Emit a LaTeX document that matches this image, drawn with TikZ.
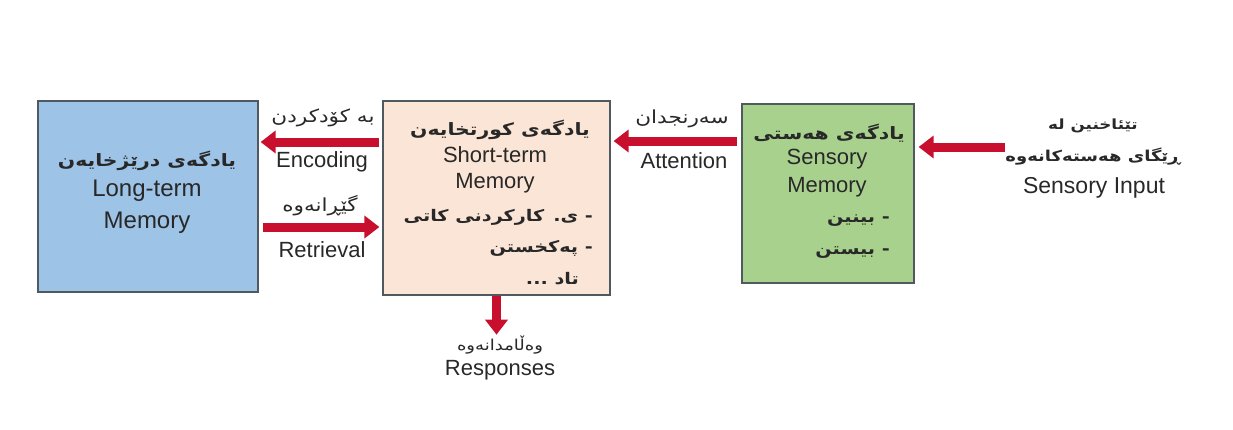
\documentclass[tikz,border=0pt]{standalone}
\usepackage{fontspec}
\setmainfont{Liberation Sans}
\newfontfamily\kufont[Script=Arabic,FakeStretch=1.2]{DejaVu Sans}
\TeXXeTstate=1
\usetikzlibrary{arrows.meta}

\definecolor{ltmfill}{RGB}{157,195,230}
\definecolor{stmfill}{RGB}{251,229,214}
\definecolor{smfill}{RGB}{169,209,142}
\definecolor{boxline}{RGB}{80,88,96}
\definecolor{arrowred}{RGB}{200,16,46}
\definecolor{txt}{RGB}{40,40,40}

\tikzset{
  membox/.style={draw=boxline, line width=1.2pt, minimum width=#1, inner sep=0pt},
  bigarrow/.style={draw=arrowred, line width=9pt, -{Triangle[length=15pt,width=22pt]}},
  entext/.style={font=\fontsize{22}{26}\selectfont, text=txt, inner sep=0pt},
  kutext/.style={font=\kufont\fontsize{18}{22}\selectfont, text=txt, inner sep=0pt},
  kubold/.style={font=\kufont\bfseries\fontsize{16}{20}\selectfont, text=txt, inner sep=0pt},
  kuhead/.style={font=\kufont\bfseries\fontsize{17}{21}\selectfont, text=txt, inner sep=0pt}
}

\begin{document}
\begin{tikzpicture}[x=1pt,y=-1pt]
  \useasboundingbox (0,0) rectangle (1233,429);

  % Draw the memory boxes
  \node[membox=220pt, minimum height=191pt, fill=ltmfill] (ltm) at (148,196.5) {};
  \node[membox=227pt, minimum height=194pt, fill=stmfill] (stm) at (496.5,198) {};
  \node[membox=172pt, minimum height=179pt, fill=smfill] (sm) at (828,193.5) {};

  % Long-term memory text
  \node[kuhead] (ltmku) at (147,161) {\beginR یادگەی درێژخایەن\endR};
  \node[entext, font=\fontsize{24}{28}\selectfont] (ltmen) at (147,191) {Long-term};
  \node[entext, font=\fontsize{24}{28}\selectfont] (ltmen2) at (147,223) {Memory};

  % Short-term memory text
  \node[kuhead] (stmku) at (500,130) {\beginR یادگەی کورتخایەن\endR};
  \node[entext] (stmen) at (495,155) {Short-term};
  \node[entext] (stmen2) at (495,183) {Memory};
  \node[kubold, anchor=east] (stml1) at (593,217) {\beginR - ی. کارکردنی کاتی\endR};
  \node[kubold, anchor=east] (stml2) at (593,248) {\beginR - پەکخستن\endR};
  \node[kubold, anchor=east] (stml3) at (579,279) {\beginR تاد ...\endR};

  % Sensory memory text
  \node[kuhead] (smku) at (829,133) {\beginR یادگەی هەستی\endR};
  \node[entext] (smen) at (827,159) {Sensory};
  \node[entext] (smen2) at (827,187) {Memory};
  \node[kubold, anchor=east] (sml1) at (890,221) {\beginR - بینین\endR};
  \node[kubold, anchor=east] (sml2) at (890,253) {\beginR - بیستن\endR};

  % Sensory input and responses
  \node[kubold, font=\kufont\bfseries\fontsize{14}{18}\selectfont] (inpku) at (1093,126) {\beginR تێئاخنین لە\endR};
  \node[kubold, font=\kufont\bfseries\fontsize{15}{19}\selectfont] (inpku2) at (1093,157) {\beginR ڕێگای هەستەکانەوە\endR};
  \node[entext, font=\fontsize{23}{27}\selectfont] (inpen) at (1094,188) {Sensory Input};
  \node[kutext, font=\kufont\fontsize{15}{19}\selectfont] (resku) at (500,345) {\beginR وەڵامدانەوە\endR};
  \node[entext] (resen) at (500,370) {Responses};

  % Arrow labels
  \node[kutext] (encku) at (323,118) {\beginR بە کۆدکردن\endR};
  \node[entext] (encen) at (322,162) {Encoding};
  \node[kutext] (retku) at (320,206) {\beginR گێڕانەوە\endR};
  \node[entext] (reten) at (322,250) {Retrieval};
  \node[kutext] (attku) at (682,119) {\beginR سەرنجدان\endR};
  \node[entext] (atten) at (684,161) {Attention};

  % Draw the arrows
  \coordinate (enc) at ([yshift=56pt]stm.west);
  \coordinate (ret) at ([yshift=-29pt]stm.west);
  \coordinate (att) at ([yshift=52.5pt]sm.west);
  \coordinate (inp) at (1005,147);
  \draw[bigarrow, shorten <=3pt, shorten >=2pt] (enc) -- (enc -| ltm.east);
  \draw[bigarrow, shorten <=4pt, shorten >=3pt] (ret -| ltm.east) -- (ret);
  \draw[bigarrow, shorten <=4pt, shorten >=3pt] (att) -- (att -| stm.east);
  \draw[bigarrow, shorten >=4pt] (inp) -- (inp -| sm.east);
  \draw[bigarrow, shorten >=1pt] (stm.south) -- (stm.south |- resku.north);
\end{tikzpicture}
\end{document}
